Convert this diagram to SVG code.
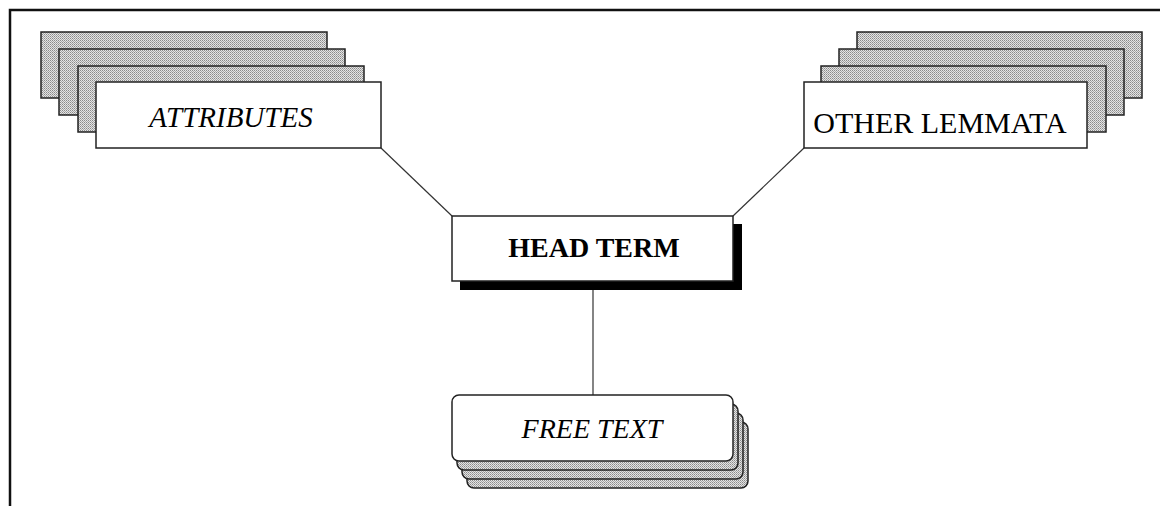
<svg xmlns="http://www.w3.org/2000/svg" width="1160" height="506" viewBox="0 0 1160 506">
  <defs>
    <pattern id="dots" width="2" height="2" patternUnits="userSpaceOnUse">
      <rect width="2" height="2" fill="#e4e4e4"/>
      <rect x="0" y="0" width="1" height="1" fill="#8a8a8a"/>
      <rect x="1" y="1" width="1" height="1" fill="#a8a8a8"/>
    </pattern>
  </defs>
  <style>
    .frame { fill: none; stroke: #111; stroke-width: 2.5; }
    .sheet { fill: url(#dots); stroke: #222; stroke-width: 1.5; }
    .box { fill: #fff; stroke: #222; stroke-width: 1.5; }
    .shadow { fill: #000; }
    .conn { fill: none; stroke: #333; stroke-width: 1.2; }
    .lbl { font-family: "Liberation Serif", "Times New Roman", serif; fill: #000; text-anchor: middle; }
  </style>
  <rect width="1160" height="506" fill="#fff"/>
  <path class="frame" d="M10,506 V10 H1160"/>

  <g id="connectors">
    <line class="conn" x1="381" y1="148" x2="452" y2="216"/>
    <line class="conn" x1="804" y1="148" x2="733" y2="216"/>
    <line class="conn" x1="593" y1="290" x2="593" y2="395"/>
  </g>

  <g id="attributes">
    <rect class="sheet" x="41" y="32" width="286" height="66"/>
    <rect class="sheet" x="59" y="49" width="286" height="66"/>
    <rect class="sheet" x="78" y="66" width="286" height="66"/>
    <rect class="box" x="96" y="82" width="285" height="66"/>
    <text class="lbl" x="231" y="127" font-size="29" font-style="italic">ATTRIBUTES</text>
  </g>

  <g id="other-lemmata">
    <rect class="sheet" x="857" y="32" width="285" height="66"/>
    <rect class="sheet" x="839" y="49" width="285" height="66"/>
    <rect class="sheet" x="821" y="66" width="285" height="66"/>
    <rect class="box" x="804" y="82" width="283" height="66"/>
    <text class="lbl" x="940" y="133" font-size="30">OTHER LEMMATA</text>
  </g>

  <g id="head-term">
    <rect class="shadow" x="460" y="224" width="282" height="66"/>
    <rect class="box" x="452" y="216" width="281" height="65"/>
    <text class="lbl" x="594" y="257" font-size="28" font-weight="bold">HEAD TERM</text>
  </g>

  <g id="free-text">
    <rect class="sheet" x="467" y="422" width="281" height="66" rx="7"/>
    <rect class="sheet" x="462" y="413" width="281" height="66" rx="7"/>
    <rect class="sheet" x="457" y="404" width="281" height="66" rx="7"/>
    <rect class="box" x="452" y="395" width="281" height="66" rx="7"/>
    <text class="lbl" x="592" y="438" font-size="28" font-style="italic">FREE TEXT</text>
  </g>
</svg>
